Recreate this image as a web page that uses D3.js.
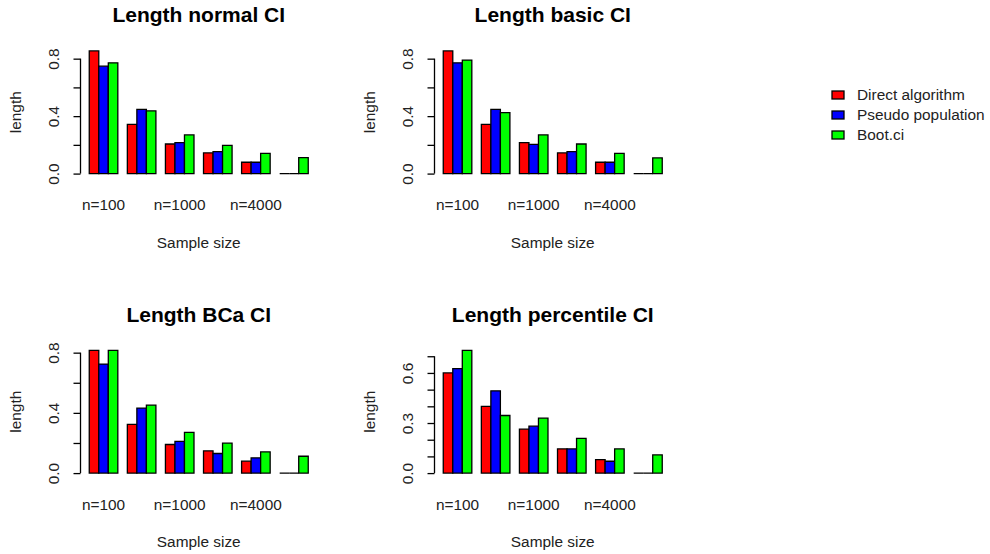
<!DOCTYPE html>
<style>
  body { margin: 0; background: #fff; }
  svg { font-family: "Liberation Sans", Arial, sans-serif; }
</style>
<svg width="990" height="554"></svg>
<script src="https://d3js.org/d3.v7.min.js"></script>
<script>

// categories + series
var groupLabels = ["n=100", "", "n=1000", "", "n=4000", ""];
var seriesNames = ["Direct algorithm", "Pseudo population", "Boot.ci"];
var seriesColors = ["#ff0000", "#0000ff", "#00ff00"];
var panelTitles = ["Length normal CI", "Length basic CI", "Length BCa CI", "Length percentile CI"];

// values
var normalDirect = [0.854, 0.342, 0.206, 0.144, 0.079, 0];
var normalPseudo = [0.748, 0.447, 0.215, 0.153, 0.079, 0];
var normalBoot   = [0.771, 0.437, 0.269, 0.197, 0.141, 0.111];

var basicDirect = [0.854, 0.342, 0.215, 0.144, 0.079, 0];
var basicPseudo = [0.771, 0.447, 0.204, 0.153, 0.079, 0];
var basicBoot   = [0.790, 0.424, 0.269, 0.206, 0.141, 0.109];

var bcaDirect = [0.815, 0.323, 0.190, 0.148, 0.079, 0];
var bcaPseudo = [0.724, 0.432, 0.211, 0.130, 0.101, 0];
var bcaBoot   = [0.815, 0.452, 0.271, 0.199, 0.141, 0.112];

var pctDirect = [0.600, 0.400, 0.263, 0.145, 0.081, 0];
var pctPseudo = [0.626, 0.493, 0.281, 0.145, 0.071, 0];
var pctBoot   = [0.735, 0.345, 0.329, 0.208, 0.145, 0.109];

// y tick values and which get a label
var ticksA = [0, 0.2, 0.4, 0.6, 0.8], labelsA = [0, 0.4, 0.8];
var ticksB = [0, 0.1, 0.2, 0.3, 0.4, 0.5, 0.6, 0.7], labelsB = [0, 0.3, 0.6];

var panels = [
  { title: panelTitles[0], series: [normalDirect, normalPseudo, normalBoot], ticks: ticksA, labels: labelsA, ox: 0,   oy: 0 },
  { title: panelTitles[1], series: [basicDirect, basicPseudo, basicBoot],    ticks: ticksA, labels: labelsA, ox: 354, oy: 0 },
  { title: panelTitles[2], series: [bcaDirect, bcaPseudo, bcaBoot],          ticks: ticksA, labels: labelsA, ox: 0,   oy: 299.5 },
  { title: panelTitles[3], series: [pctDirect, pctPseudo, pctBoot],          ticks: ticksB, labels: labelsB, ox: 354, oy: 299.5 }
];

var svg = d3.select("svg");
var plotL = 80.5, plotW = 236.5, plotT = 46, plotH = 132.5;
var fs = "15.4px";

panels.forEach(function(p) {
  var g = svg.append("g").attr("transform", "translate(" + p.ox + "," + p.oy + ")");

  var maxV = d3.max(p.series, function(s) { return d3.max(s); });
  // barplot style: 4% padding on both ends
  var x = d3.scaleLinear().domain([0.08, 24.92]).range([plotL, plotL + plotW]);
  var y = d3.scaleLinear().domain([-0.04 * maxV, 1.04 * maxV]).range([plotT + plotH, plotT]);

  // bars: group i starts at 1 + 4*i, bar j width 1
  groupLabels.forEach(function(lab, i) {
    p.series.forEach(function(s, j) {
      var x0 = x(1 + 4 * i + j), x1 = x(2 + 4 * i + j);
      var y0 = y(0), y1 = y(s[i]);
      g.append("path")
        .attr("d", "M" + x0 + "," + y0 + "H" + x1 + "V" + y1 + "H" + x0 + "Z")
        .attr("fill", seriesColors[j])
        .attr("stroke", "#000")
        .attr("stroke-width", 1.3);
    });
    if (lab) {
      g.append("text")
        .attr("x", x(2.5 + 4 * i))
        .attr("y", plotT + plotH + 31.5)
        .attr("text-anchor", "middle")
        .style("font-size", fs)
        .attr("fill", "#222")
        .text(lab);
    }
  });

  // y axis
  var ax = d3.axisLeft(y)
    .tickValues(p.ticks)
    .tickSize(7)
    .tickFormat(function(d) {
      return p.labels.some(function(l) { return Math.abs(l - d) < 1e-9; }) ? d3.format(".1f")(d) : "";
    });
  var axg = g.append("g").attr("transform", "translate(" + plotL + ",0)").call(ax);
  axg.select(".domain").remove();
  axg.selectAll(".tick line").attr("stroke", "#000").attr("stroke-width", 1.3);
  axg.selectAll(".tick text")
    .attr("transform", "rotate(-90)")
    .attr("x", 0).attr("y", -22).attr("dy", 0)
    .attr("text-anchor", "middle")
    .attr("fill", "#222")
    .style("font-size", fs)
    .style("font-family", "Liberation Sans, Arial, sans-serif");
  axg.append("line")
    .attr("x1", 0).attr("x2", 0)
    .attr("y1", y(p.ticks[0])).attr("y2", y(p.ticks[p.ticks.length - 1]))
    .attr("stroke", "#000").attr("stroke-width", 1.3);

  // titles
  g.append("text")
    .attr("x", plotL + plotW / 2)
    .attr("y", 22)
    .attr("text-anchor", "middle")
    .style("font-size", "21px")
    .style("font-weight", "bold")
    .text(p.title);

  g.append("text")
    .attr("x", plotL + plotW / 2)
    .attr("y", plotT + plotH + 69)
    .attr("text-anchor", "middle")
    .style("font-size", fs)
    .attr("fill", "#222")
    .text("Sample size");

  g.append("text")
    .attr("transform", "translate(" + (plotL - 59.5) + "," + (plotT + plotH / 2) + ") rotate(-90)")
    .attr("text-anchor", "middle")
    .style("font-size", fs)
    .attr("fill", "#222")
    .text("length");
});

// legend
var legend = svg.selectAll(".legend")
  .data(seriesNames).enter()
  .append("g")
  .attr("class", "legend")
  .attr("transform", function(d, i) { return "translate(832," + (95 + 20 * i) + ")"; });

legend.append("rect")
  .attr("x", 0).attr("y", -4)
  .attr("width", 12).attr("height", 8)
  .attr("fill", function(d, i) { return seriesColors[i]; })
  .attr("stroke", "#000")
  .attr("stroke-width", 1.3);

legend.append("text")
  .attr("x", 25)
  .attr("dy", "0.35em")
  .style("font-size", fs)
  .attr("fill", "#222")
  .text(function(d) { return d; });

</script>
